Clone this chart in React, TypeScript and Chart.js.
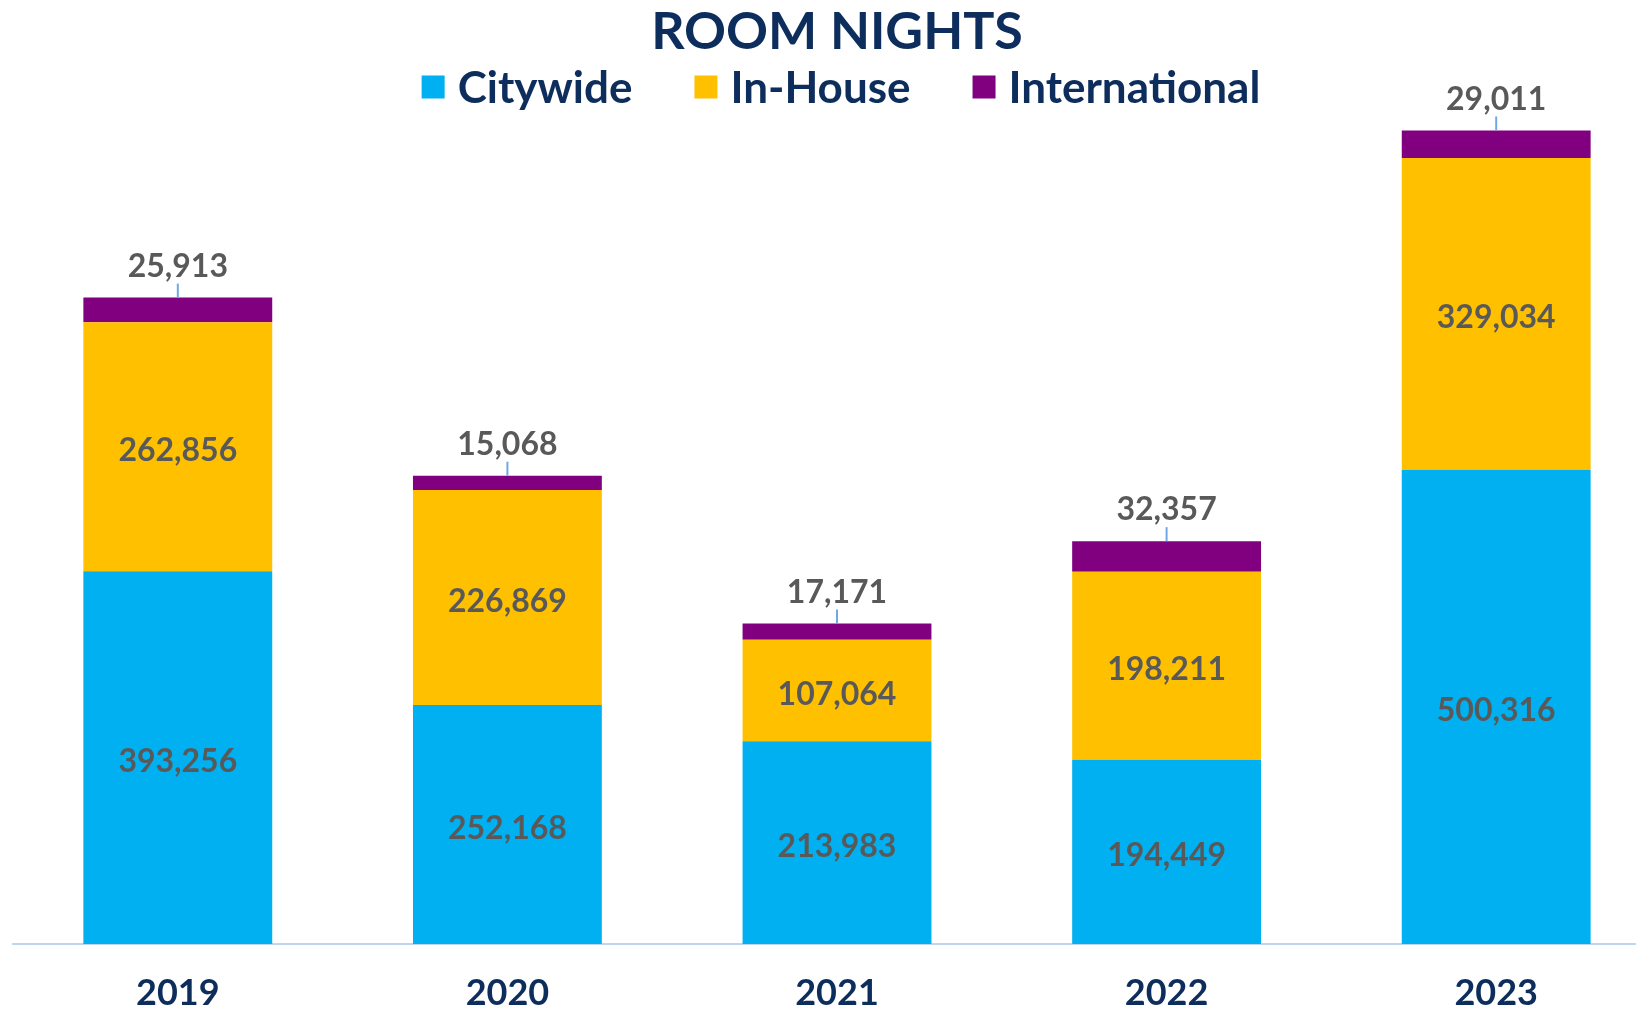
import React, { useEffect, useRef } from "react";
import { Chart, registerables } from "chart.js";

Chart.register(...registerables);

const categories = ["2019", "2020", "2021", "2022", "2023"];
const citywide = [393256, 252168, 213983, 194449, 500316];
const inHouse = [262856, 226869, 107064, 198211, 329034];
const international = [25913, 15068, 17171, 32357, 29011];
const seriesNames = ["Citywide", "In-House", "International"];
const seriesColors = ["#00B0F0", "#FFC000", "#800080"];
const titleText = "ROOM NIGHTS";

const NAVY = "#0D2D5C";
const LABEL = "#595959";
const FONT = "Lato, 'Open Sans', sans-serif";
const fmt = (v: number) => v.toLocaleString("en-US");

const W = 1661;
const H = 1010;

const overlayPlugin = {
  id: "overlay",
  afterDatasetsDraw(chart: any) {
    const ctx = chart.ctx;
    ctx.save();
    ctx.textAlign = "center";
    ctx.textBaseline = "middle";
    ctx.font = `bold 32px ${FONT}`;
    chart.data.datasets.forEach((ds: any, di: number) => {
      const meta = chart.getDatasetMeta(di);
      meta.data.forEach((el: any, i: number) => {
        const v = ds.data[i];
        if (di < 2) {
          ctx.fillStyle = LABEL;
          ctx.fillText(fmt(v), el.x, (el.y + el.base) / 2 + 4);
        } else {
          ctx.strokeStyle = "#6FA8E8";
          ctx.lineWidth = 2;
          ctx.beginPath();
          ctx.moveTo(el.x, el.y - 14);
          ctx.lineTo(el.x, el.y);
          ctx.stroke();
          ctx.fillStyle = LABEL;
          ctx.fillText(fmt(v), el.x, el.y - 31);
        }
      });
    });
    ctx.restore();
  },
  afterDraw(chart: any) {
    const ctx = chart.ctx;
    ctx.save();
    // Title
    ctx.fillStyle = NAVY;
    ctx.textAlign = "center";
    ctx.textBaseline = "middle";
    ctx.font = `bold 52px ${FONT}`;
    ctx.fillText(titleText, 837, 32);
    // Legend
    ctx.font = `bold 44px ${FONT}`;
    const box = 23;
    const gapBoxText = 13;
    const gapItems = 62;
    const widths = seriesNames.map((n) => ctx.measureText(n).width);
    const total =
      widths.reduce((a, b) => a + b, 0) +
      seriesNames.length * (box + gapBoxText) +
      (seriesNames.length - 1) * gapItems;
    let x = 841 - total / 2;
    const cy = 87;
    ctx.textAlign = "left";
    seriesNames.forEach((n, i) => {
      ctx.fillStyle = seriesColors[i];
      ctx.fillRect(x, cy - box / 2, box, box);
      x += box + gapBoxText;
      ctx.fillStyle = NAVY;
      ctx.fillText(n, x, cy + 2);
      x += widths[i] + gapItems;
    });
    ctx.restore();
  },
};

export default function App() {
  const ref = useRef<HTMLCanvasElement | null>(null);
  useEffect(() => {
    if (!ref.current) return;
    const chart = new Chart(ref.current, {
      type: "bar",
      data: {
        labels: categories,
        datasets: [
          { label: seriesNames[0], data: citywide, backgroundColor: seriesColors[0] },
          { label: seriesNames[1], data: inHouse, backgroundColor: seriesColors[1] },
          { label: seriesNames[2], data: international, backgroundColor: seriesColors[2] },
        ],
      },
      options: {
        responsive: false,
        animation: false,
        devicePixelRatio: 1,
        layout: { padding: { top: 91, left: 13, right: 0, bottom: 0 } },
        datasets: {
          bar: { categoryPercentage: 1, barPercentage: 0.573 },
        },
        plugins: {
          legend: { display: false },
          title: { display: false },
          tooltip: { enabled: false },
        },
        scales: {
          x: {
            stacked: true,
            grid: { display: false, drawTicks: false },
            border: { display: true, color: "#BDD7EE", width: 2 },
            ticks: {
              color: NAVY,
              font: { family: FONT, size: 36, weight: "bold" },
              padding: 28,
              maxRotation: 0,
            },
            afterFit: (scale: any) => {
              scale.height = 66;
            },
          },
          y: {
            stacked: true,
            display: false,
            min: 0,
            max: 900000,
          },
        },
      },
      plugins: [overlayPlugin],
    } as any);
    return () => chart.destroy();
  }, []);
  return (
    <div style={{ position: "fixed", left: 0, top: 0, width: W, height: H, background: "#fff" }}>
      <canvas ref={ref} width={W} height={H} style={{ width: W, height: H, display: "block" }} />
    </div>
  );
}
